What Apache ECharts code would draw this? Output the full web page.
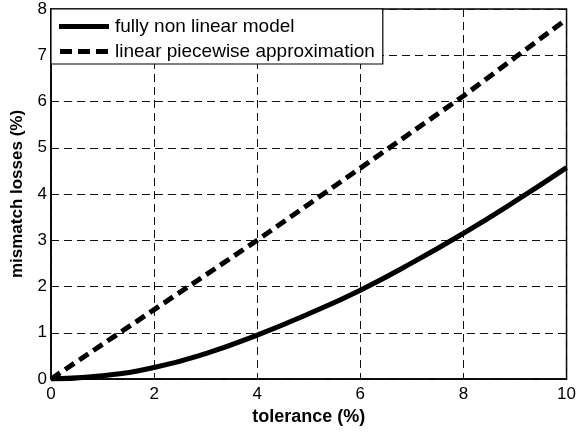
<!DOCTYPE html>
<html><head><meta charset="utf-8">
<script src="https://cdn.jsdelivr.net/npm/echarts@6/dist/echarts.min.js"></script>
<style>html,body{margin:0;padding:0;background:#fff;}#c{width:579px;height:432px;}</style>
</head><body><div id="c"></div>
<script>
const tolerance = [0,1,2,3,4,5,6,7,8,9,10];
const nonLinear = [0,0.07,0.25,0.55,0.95,1.41,1.92,2.51,3.15,3.84,4.57];
const piecewise = [0,0.75,1.5,2.25,3.0,3.78,4.56,5.34,6.12,6.95,7.78];
const seriesNames = ['fully non linear model','linear piecewise approximation'];
const font = 'Liberation Sans, Arial, sans-serif';
const chart = echarts.init(document.getElementById('c'));
const pair = (xs, ys) => xs.map((x,i)=>[x, ys[i]]);
const gridLine = {show:true, lineStyle:{color:'#111', width:1, type:[8,5]}};
const dashIcon = 'path://M0,0H12V5H0Z M18,0H30V5H18Z M36,0H48V5H36Z';
chart.setOption({
  animation:false,
  backgroundColor:'#fff',
  grid:{left:51, right:11, top:9, bottom:53, show:true, borderColor:'#000', borderWidth:1.5},
  legend:{
    orient:'vertical', left:51, top:9, padding:[8,8,3,8], itemGap:6,
    itemWidth:50, itemHeight:5,
    backgroundColor:'#fff', borderColor:'#000', borderWidth:1.2,
    textStyle:{fontFamily:font, fontSize:19, color:'#000', padding:[0,0,0,1]},
    data:[{name:seriesNames[0], icon:'rect'},{name:seriesNames[1], icon:dashIcon}]
  },
  xAxis:{type:'value', min:0, max:10, interval:2,
    name:'tolerance (%)', nameLocation:'middle', nameGap:23,
    nameTextStyle:{fontFamily:font, fontSize:18, fontWeight:'bold', color:'#000'},
    axisLine:{show:true, lineStyle:{color:'#000', width:1.5}},
    axisTick:{show:false},
    axisLabel:{fontFamily:font, fontSize:17, color:'#000', margin:7},
    splitLine:gridLine},
  yAxis:{type:'value', min:0, max:8, interval:1,
    name:'mismatch losses (%)', nameLocation:'middle', nameGap:25,
    nameTextStyle:{fontFamily:font, fontSize:17, fontWeight:'bold', color:'#000'},
    axisLine:{show:true, lineStyle:{color:'#000', width:1.5}},
    axisTick:{show:false},
    axisLabel:{fontFamily:font, fontSize:17, color:'#000', margin:4},
    splitLine:gridLine},
  series:[
    {name:seriesNames[0], type:'line', smooth:true, symbol:'none', data:pair(tolerance, nonLinear),
     lineStyle:{color:'#000', width:5}, itemStyle:{color:'#000'}},
    {name:seriesNames[1], type:'line', symbol:'none', data:pair(tolerance, piecewise),
     lineStyle:{color:'#000', width:5, type:[11,6]}, itemStyle:{color:'#000'}}
  ]
});
</script></body></html>
